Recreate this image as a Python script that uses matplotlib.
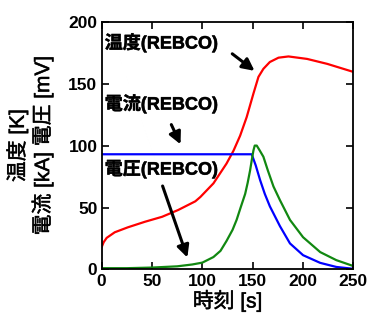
import matplotlib
matplotlib.use('Agg')
import matplotlib.pyplot as plt
import matplotlib.patheffects as pe

plt.rcParams['font.family'] = ['Liberation Sans', 'Noto Sans CJK JP']
plt.rcParams['font.weight'] = 'bold'

# temperature (K)
t_temp = [0, 2, 5, 13, 26, 43, 60, 76, 93, 98, 111, 124, 131, 137.5, 144,
          150.7, 155.7, 160.6, 167, 175.6, 185.5, 204, 224, 250]
temp = [18, 22, 25.5, 30, 34, 38.5, 42.5, 48, 55, 58.5, 69.5, 85.5, 96, 108, 123,
        142, 155.5, 162, 167.5, 171, 172, 170, 166, 159.5]

# current (kA)
t_cur = [0, 149, 153, 157.4, 162, 167, 177, 187, 200, 217, 233, 250]
cur = [93, 93, 84, 72, 61, 51, 35, 21, 11.5, 5.3, 2, 0.5]

# voltage (mV)
t_volt = [0, 25, 50, 75, 90, 100, 111, 118, 124, 130, 134, 138, 142.5, 145,
          147.4, 149, 150.7, 152, 154, 157, 160.6, 165, 170.6, 177, 187, 200,
          217, 233, 250]
volt = [1, 1, 1.5, 2.5, 4, 5.5, 10, 15, 23, 32, 40, 50, 61, 70,
        80, 88, 96, 100, 100, 96, 91, 80, 67, 56, 40, 26,
        14, 7.5, 2.7]

fig = plt.figure(figsize=(3.67, 3.25), dpi=100)
ax = fig.add_axes([0.277, 0.171, 0.686, 0.762])

ax.plot(t_temp, temp, color='#ff0000', lw=1.6)
ax.plot(t_cur, cur, color='#0000ff', lw=1.6)
ax.plot(t_volt, volt, color='#118811', lw=1.6)

ax.set_xlim(0, 250)
ax.set_ylim(0, 200)
ax.set_xticks([0, 50, 100, 150, 200, 250])
ax.set_yticks([0, 50, 100, 150, 200])
ax.tick_params(direction='in', top=True, right=True, length=5, width=1.2,
               labelsize=12.5, pad=3)
for s in ax.spines.values():
    s.set_linewidth(1.3)

# CJK font has no bold face, thicken it a bit
bold = [pe.withStroke(linewidth=0.4, foreground='#222222')]

ax.set_xlabel('時刻 [s]', fontsize=15, labelpad=1, path_effects=bold)
ax.set_ylabel('温度 [K]\n電流 [kA] 電圧 [mV]', fontsize=15, labelpad=11,
              linespacing=1.2, path_effects=bold)

arrow = dict(arrowstyle='-|>', color='k', lw=2.2, mutation_scale=18)
ax.text(3, 183, '温度(REBCO)', fontsize=13, va='center', ha='left',
        path_effects=bold)
ax.annotate('', xy=(154, 159), xytext=(127.5, 175.5), arrowprops=arrow)
ax.text(3, 133.5, '電流(REBCO)', fontsize=13, va='center', ha='left',
        path_effects=bold)
ax.annotate('', xy=(79.5, 99), xytext=(68, 119), arrowprops=arrow)
ax.text(3, 81, '電圧(REBCO)', fontsize=13, va='center', ha='left',
        path_effects=bold)
ax.annotate('', xy=(86, 7.5), xytext=(59.6, 69.5), arrowprops=arrow)

fig.savefig('out.png', dpi=100)
